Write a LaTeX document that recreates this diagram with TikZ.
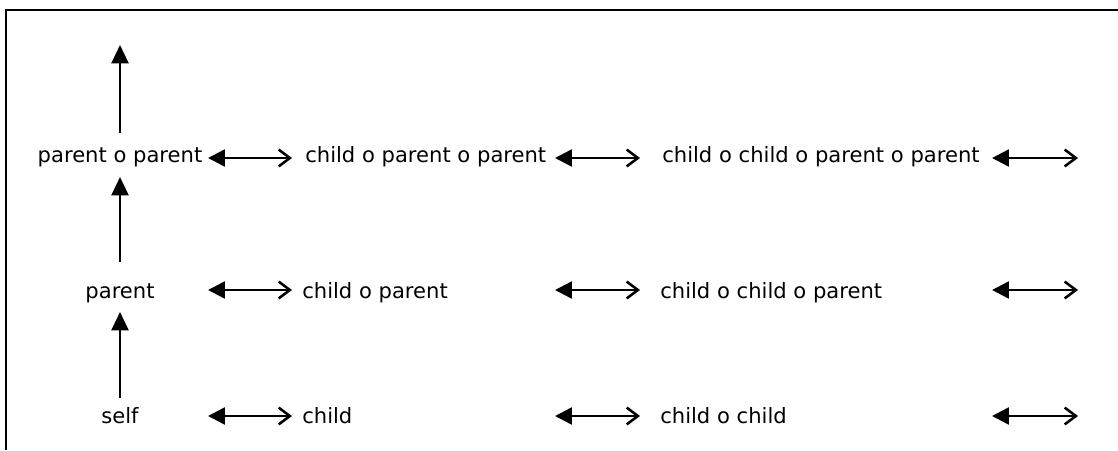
\documentclass[tikz,border=0pt]{standalone}
\usepackage{fontspec}
\setmainfont{DejaVu Sans}
\usetikzlibrary{arrows.meta}

\begin{document}
\begin{tikzpicture}[
		lbl/.style = {inner sep=0pt, font=\fontsize{15}{18}\selectfont},
		swap/.style = {line width=1.8pt, {Triangle[length=12pt,width=12pt]}-{Straight Barb[length=8pt,width=12pt]}},
		goup/.style = {line width=1.8pt, -{Triangle[length=13pt,width=12pt]}}
	]
		\useasboundingbox (0,0) rectangle (27.95,11.25);
		\draw[line width=2pt] (0.15,0) -- (0.15,11.0) -- (27.95,11.0);
		
		% first column
		\node[lbl, anchor = base] (self) at (3,0.675) {self};
		\node[lbl, anchor = base] (par) at (3,3.8) {parent};
		\node[lbl, anchor = base] (parpar) at (3,7.2) {parent o parent};
		
		% second column
		\node[lbl, anchor = base west] (ch) at (7.55,0.675) {child};
		\node[lbl, anchor = base west] (chpar) at (7.55,3.8) {child o parent};
		\node[lbl, anchor = base west] (chparpar) at (7.625,7.2) {child o parent o parent};
		
		% third column
		\node[lbl, anchor = base west] (chch) at (16.5,0.675) {child o child};
		\node[lbl, anchor = base west] (chchpar) at (16.5,3.8) {child o child o parent};
		\node[lbl, anchor = base west] (chchparpar) at (16.55,7.2) {child o child o parent o parent};
		
		% ends of the arrows
		\foreach \r/\y in {1/0.85, 2/4.0, 3/7.3} {
			\coordinate (la\r) at (5.2,\y);
			\coordinate (ra\r) at (7.3,\y);
			\coordinate (lb\r) at (13.875,\y);
			\coordinate (rb\r) at (16.0,\y);
			\coordinate (lc\r) at (24.8,\y);
			\coordinate (rc\r) at (26.95,\y);
		}
		\coordinate (v1) at (3,1.3);
		\coordinate (w1) at (3,3.45);
		\coordinate (v2) at (3,4.7);
		\coordinate (w2) at (3,6.825);
		\coordinate (v3) at (3,7.925);
		\coordinate (w3) at (3,10.125);
		
		\foreach \r in {1,2,3} {
			\foreach \c in {a,b,c}
				\draw[swap] (l\c\r) -- (r\c\r);
			\draw[goup] (v\r) -- (w\r);
		}
		
	\end{tikzpicture}
\end{document}
